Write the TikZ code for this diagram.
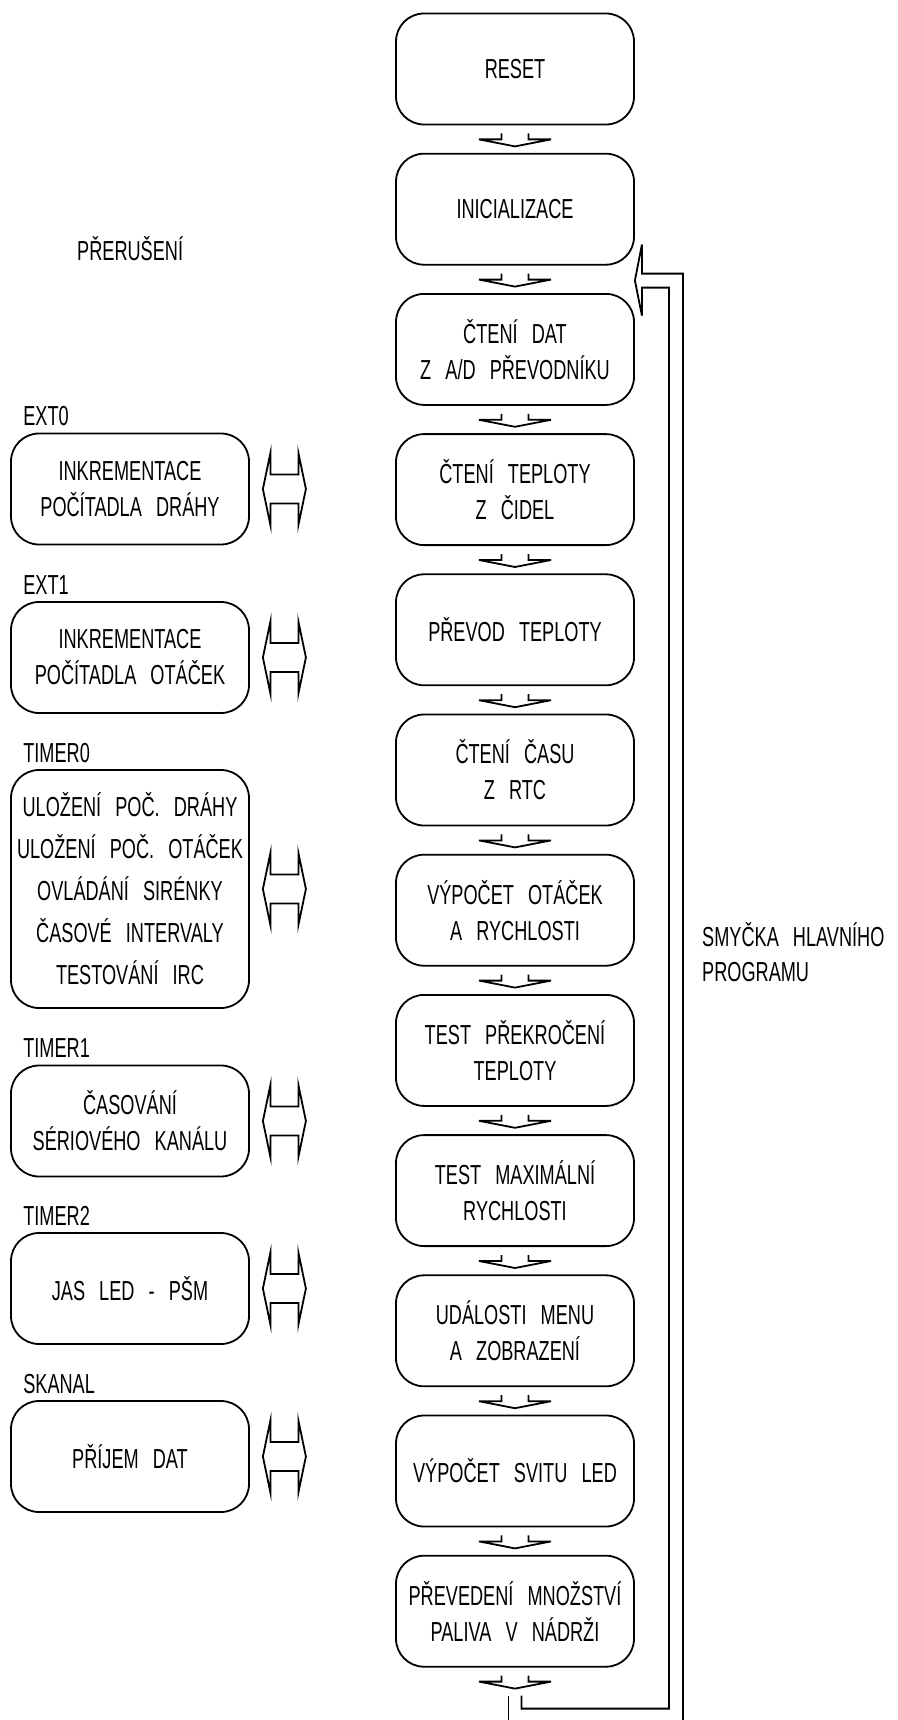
\documentclass[tikz,border=0pt]{standalone}
\usepackage{fontspec}
\setmainfont{Liberation Sans}[FakeStretch=0.66,WordSpace=2.8]
\usetikzlibrary{positioning,calc}

\tikzset{
  krok/.style={draw, line width=1.8pt, rounded corners=28pt, minimum width=238pt,
    minimum height=111pt, inner sep=0pt, align=center,
    font=\fontsize{27.5}{36}\selectfont},
  stitek/.style={anchor=west, inner sep=0pt, font=\fontsize{27.5}{35}\selectfont},
  spoj/.style={line width=1.8pt, line join=miter},
  sipka/.pic={\draw[spoj] (-13.5,-8) -- (-13.5,-14) -- (-36,-14) -- (0,-21)
    -- (36,-14) -- (13.5,-14) -- (13.5,-8);},
  dvojsipka/.pic={\draw[spoj] (-21.5,0) -- (-14,36) -- (-14,14.5) -- (14,14.5)
    -- (14,36) -- (21.5,0) -- (14,-36) -- (14,-14.5) -- (-14,-14.5) -- (-14,-36) -- cycle;},
}

\begin{document}
\begin{tikzpicture}[x=1pt,y=1pt,node distance=27.4pt]
        \useasboundingbox (0,0) rectangle (897,-1720);

        % hlavni program
        \node[krok] (b1) at (515,-69) {RESET};
        \node[krok, below=of b1] (b2) {INICIALIZACE};
        \node[krok, below=of b2] (b3) {ČTENÍ DAT\\Z A/D PŘEVODNÍKU};
        \node[krok, below=of b3] (b4) {ČTENÍ TEPLOTY\\Z ČIDEL};
        \node[krok, below=of b4] (b5) {PŘEVOD TEPLOTY};
        \node[krok, below=of b5] (b6) {ČTENÍ ČASU\\Z RTC};
        \node[krok, below=of b6] (b7) {VÝPOČET OTÁČEK\\A RYCHLOSTI};
        \node[krok, below=of b7] (b8) {TEST PŘEKROČENÍ\\TEPLOTY};
        \node[krok, below=of b8] (b9) {TEST MAXIMÁLNÍ\\RYCHLOSTI};
        \node[krok, below=of b9] (b10) {UDÁLOSTI MENU\\A ZOBRAZENÍ};
        \node[krok, below=of b10] (b11) {VÝPOČET SVITU LED};
        \node[krok, below=of b11] (b12) {PŘEVEDENÍ MNOŽSTVÍ\\PALIVA V NÁDRŽI};

        \foreach \i in {1,...,12}
            \pic at (b\i.south) {sipka};

        % smycka
        \coordinate (lv) at ($(b12.south)+(-6.5,-28)$);
        \coordinate (pv) at ($(b12.south)+(6.5,-28)$);
        \coordinate (hrot) at ($(b2.south east)+(0,-15)$);
        \draw[spoj] (pv) -- ++(0,-13) -| ($(hrot)+(34,-7)$) -- ++(-27,0) -- ++(0,-28)
            -- (hrot) -- ++(7,36) -- ++(0,-29) -- ++(41,0) -- ++(0,-1447);
        \draw[spoj] (lv) -- ++(0,-24);
        \node[stitek, align=left] (smycka) at (702,-952) {SMYČKA HLAVNÍHO\\PROGRAMU};

        % preruseni
        \node[stitek] (prer) at (77,-249) {PŘERUŠENÍ};
        \node[krok] (e0) at (130,-489) {INKREMENTACE\\POČÍTADLA DRÁHY};
        \node[krok] (e1) at (130,-657.5) {INKREMENTACE\\POČÍTADLA OTÁČEK};
        \node[krok, minimum height=238pt, font=\fontsize{27.5}{42}\selectfont] (t0) at (130,-889)
            {ULOŽENÍ POČ. DRÁHY\\ULOŽENÍ POČ. OTÁČEK\\OVLÁDÁNÍ SIRÉNKY\\ČASOVÉ INTERVALY\\TESTOVÁNÍ IRC};
        \node[krok] (t1) at (130,-1121) {ČASOVÁNÍ\\SÉRIOVÉHO KANÁLU};
        \node[krok] (t2) at (130,-1288.5) {JAS LED - PŠM};
        \node[krok] (sk) at (130,-1456.5) {PŘÍJEM DAT};

        \foreach \n/\t in {e0/EXT0, e1/EXT1, t0/TIMER0, t1/TIMER1, t2/TIMER2, sk/SKANAL} {
            \node[stitek] (l\n) at ($(\n.north west)+(13,16.5)$) {\t};
            \pic at ($(\n.east)+(34.5,0)$) {dvojsipka};
        }
\end{tikzpicture}
\end{document}
